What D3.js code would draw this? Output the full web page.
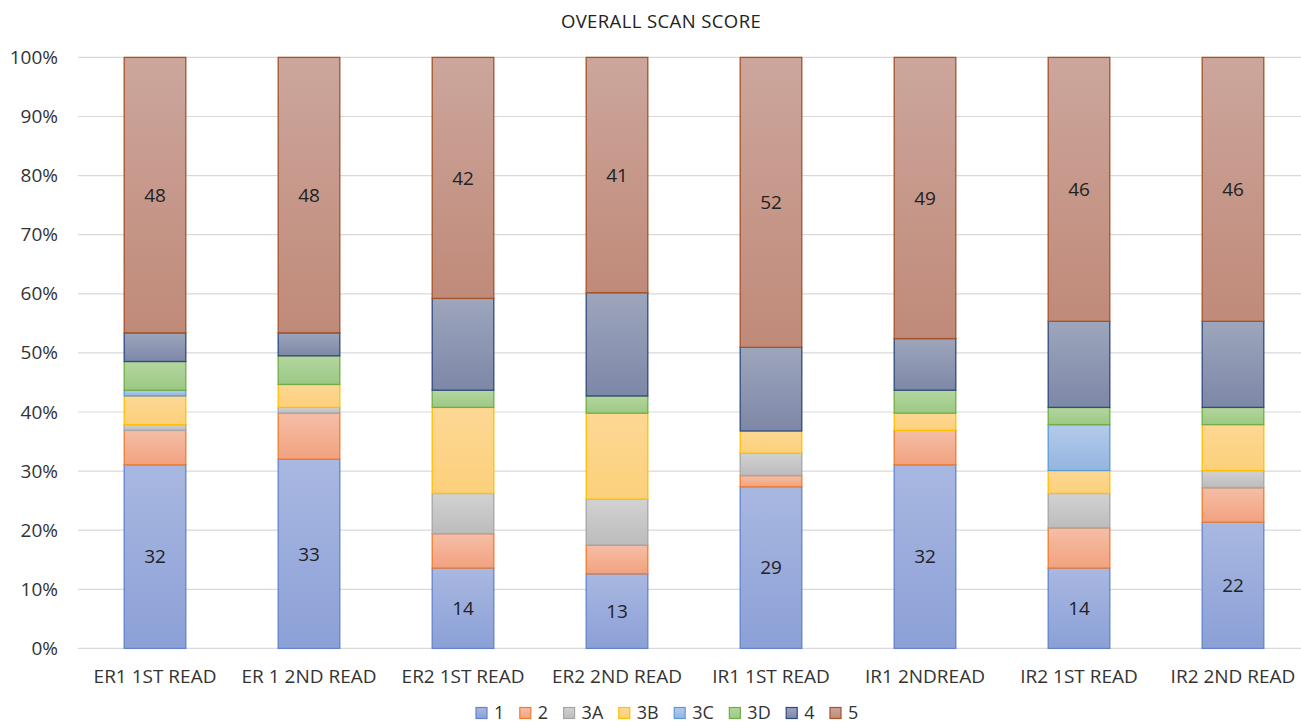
<!DOCTYPE html>
<html>
<head>
<meta charset="utf-8">
<script src="https://cdn.jsdelivr.net/npm/d3@7"></script>
<style>
  html, body { margin: 0; padding: 0; background: #fff; }
  svg { display: block; font-family: "Open Sans", "Liberation Sans", sans-serif; }
</style>
</head>
<body>
<svg id="chart" width="1301" height="725"></svg>
<script>
// Reads and score categories
const reads = ["ER1 1ST READ", "ER 1 2ND READ", "ER2 1ST READ", "ER2 2ND READ",
               "IR1 1ST READ", "IR1 2NDREAD", "IR2 1ST READ", "IR2 2ND READ"];
const scores = ["1", "2", "3A", "3B", "3C", "3D", "4", "5"];

// Counts per score, one value per read
const score1  = [32, 33, 14, 13, 29, 32, 14, 22];
const score2  = [ 6,  8,  6,  5,  2,  6,  7,  6];
const score3A = [ 1,  1,  7,  8,  4,  0,  6,  3];
const score3B = [ 5,  4, 15, 15,  4,  3,  4,  8];
const score3C = [ 1,  0,  0,  0,  0,  0,  8,  0];
const score3D = [ 5,  5,  3,  3,  0,  4,  3,  3];
const score4  = [ 5,  4, 16, 18, 15,  9, 15, 15];
const score5  = [48, 48, 42, 41, 52, 49, 46, 46];

const yTicks = [0, 0.1, 0.2, 0.3, 0.4, 0.5, 0.6, 0.7, 0.8, 0.9, 1.0];
const labelledScores = ["1", "5"];

const seriesValues = [score1, score2, score3A, score3B, score3C, score3D, score4, score5];

// Fill gradients (top, bottom) and outline per score
const styles = {
  "1":  { top: "#a9b8e1", bottom: "#8ba0d7", stroke: "#6384cb" },
  "2":  { top: "#f5bea7", bottom: "#f2a27f", stroke: "#ed7d31" },
  "3A": { top: "#d2d2d2", bottom: "#bcbcbc", stroke: "#a5a5a5" },
  "3B": { top: "#fdd894", bottom: "#fcd07b", stroke: "#ffc000" },
  "3C": { top: "#b4cbea", bottom: "#93b5e0", stroke: "#5b9bd5" },
  "3D": { top: "#b4d6a0", bottom: "#9cc983", stroke: "#70ad47" },
  "4":  { top: "#9ea6bc", bottom: "#7d87a7", stroke: "#2f4a7e" },
  "5":  { top: "#cca69c", bottom: "#c08a79", stroke: "#a5532a" }
};

const rows = reads.map((r, i) => {
  const row = { read: r };
  scores.forEach((s, k) => { row[s] = seriesValues[k][i]; });
  return row;
});

const stack = d3.stack().keys(scores).offset(d3.stackOffsetExpand);
const layers = stack(rows);

const svg = d3.select("#chart");
const margin = { left: 78, right: -9, top: 57.4, bottom: 76.6 };
const width = 1301, height = 725;
const FONT = "'Open Sans', 'Liberation Sans', sans-serif";

const x = d3.scaleBand()
  .domain(reads)
  .range([margin.left, width - margin.right])
  .paddingInner(0.6)
  .paddingOuter(0.3);

const y = d3.scaleLinear()
  .domain([0, 1])
  .range([height - margin.bottom, margin.top]);

// Gradients
const defs = svg.append("defs");
scores.forEach((s, k) => {
  const g = defs.append("linearGradient")
    .attr("id", "grad" + k)
    .attr("x1", 0).attr("y1", 0).attr("x2", 0).attr("y2", 1);
  g.append("stop").attr("offset", "0%").attr("stop-color", styles[s].top);
  g.append("stop").attr("offset", "100%").attr("stop-color", styles[s].bottom);
});

// Title
svg.append("text")
  .attr("x", 661).attr("y", 21)
  .attr("dy", "0.36em")
  .attr("text-anchor", "middle")
  .attr("font-size", 18.5)
  .attr("fill", "#222")
  .attr("letter-spacing", "0.4")
  .text("OVERALL SCAN SCORE");

// Gridlines
svg.append("g")
  .selectAll("line")
  .data(yTicks)
  .join("line")
  .attr("x1", margin.left).attr("x2", width)
  .attr("y1", d => y(d)).attr("y2", d => y(d))
  .attr("stroke", "#d9d9d9")
  .attr("stroke-width", 1.2);

// Y axis labels
const yAxis = d3.axisLeft(y).tickValues(yTicks).tickFormat(d3.format(".0%")).tickSize(0).tickPadding(20);
const yg = svg.append("g").attr("transform", `translate(${margin.left},0)`).call(yAxis);
yg.select(".domain").remove();
yg.selectAll("text").attr("font-size", 19).attr("fill", "#333").attr("font-family", FONT);

// X axis labels
const xAxis = d3.axisBottom(x).tickSize(0).tickPadding(21);
const xg = svg.append("g").attr("transform", `translate(0,${y(0)})`).call(xAxis);
xg.select(".domain").remove();
xg.selectAll("text").attr("font-size", 19).attr("fill", "#333").attr("font-family", FONT);

// Bars
const layerG = svg.append("g")
  .selectAll("g")
  .data(layers)
  .join("g")
  .attr("fill", (d, k) => `url(#grad${k})`)
  .attr("stroke", d => styles[d.key].stroke);

layerG.selectAll("rect")
  .data(d => d.filter(p => p[1] - p[0] > 0))
  .join("rect")
  .attr("x", p => x(p.data.read))
  .attr("width", x.bandwidth())
  .attr("y", p => y(p[1]))
  .attr("height", p => y(p[0]) - y(p[1]))
  .attr("stroke-width", 1.3);

// Value labels on scores 1 and 5
layers.filter(l => labelledScores.includes(l.key)).forEach(l => {
  svg.append("g")
    .selectAll("text")
    .data(l)
    .join("text")
    .attr("x", p => x(p.data.read) + x.bandwidth() / 2)
    .attr("y", p => (y(p[0]) + y(p[1])) / 2)
    .attr("dy", "0.36em")
    .attr("text-anchor", "middle")
    .attr("font-size", 19)
    .attr("fill", "#222")
    .text(p => p.data[l.key]);
});

// Legend
const legend = svg.append("g").attr("transform", "translate(0,713)");
let lx = 476;
scores.forEach((s, k) => {
  const g = legend.append("g").attr("transform", `translate(${lx},0)`);
  g.append("rect")
    .attr("x", 0).attr("y", -5.5).attr("width", 11).attr("height", 11)
    .attr("fill", `url(#grad${k})`)
    .attr("stroke", styles[s].stroke)
    .attr("stroke-width", 1.2);
  const t = g.append("text")
    .attr("x", 18).attr("y", 0).attr("dy", "0.35em")
    .attr("font-size", 18).attr("fill", "#333")
    .text(s);
  lx += 18 + t.node().getComputedTextLength() + 15.5;
});
</script>
</body>
</html>
